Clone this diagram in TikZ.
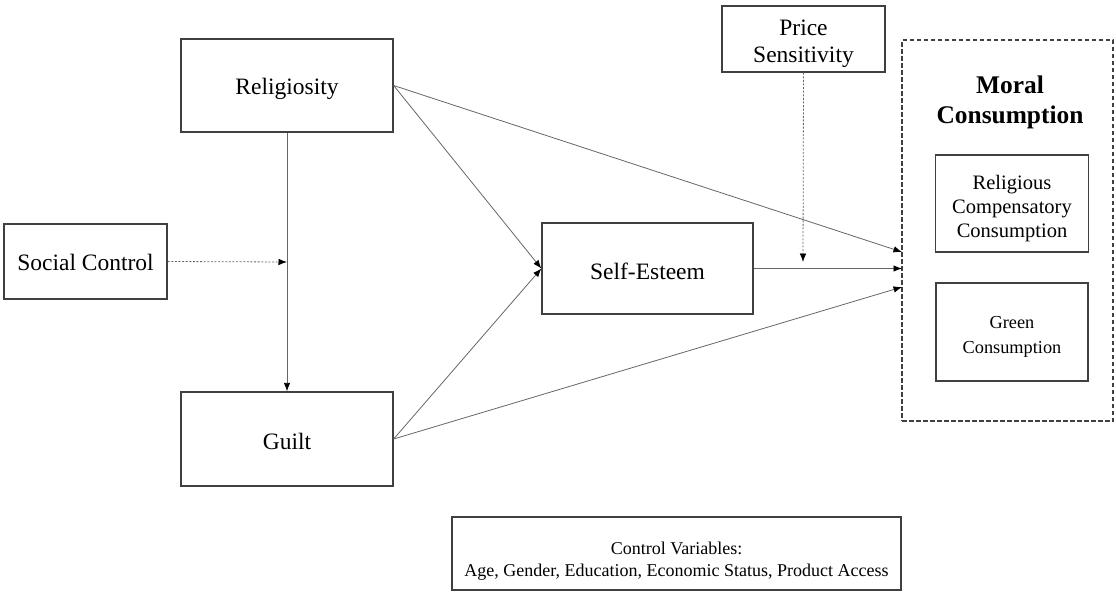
\documentclass[tikz,border=0pt]{standalone}
\usepackage{fontspec}
\setmainfont{Liberation Serif}
\usetikzlibrary{arrows.meta}
\begin{document}
\begin{tikzpicture}[x=1pt,y=-1pt,
  box/.style={draw=black!75,line width=1.3pt,minimum width=#1,inner sep=0pt},
  boxh/.style={minimum height=#1},
  lbl/.style={align=center,inner sep=0pt},
  mainfont/.style={font=\fontsize{23.5}{27}\selectfont},
  link/.style={draw=black!60,line width=0.8pt,-{Latex[length=8.5pt,width=6.5pt,black]}},
  mod/.style={draw=black!60,line width=0.8pt,dash pattern=on 2pt off 1.6pt,-{Latex[length=8.5pt,width=6.5pt,black]}}
]
\useasboundingbox (0,0) rectangle (1116,603);

% predictors
\node[box=212pt,boxh=93pt] (rel) at (287,85.5) {};
\node[lbl,mainfont] (reltext) at (287,89) {Religiosity};
\node[box=163pt,boxh=75pt] (soc) at (85.5,261.5) {};
\node[lbl,mainfont] (soctext) at (85.5,262.5) {Social Control};
\node[box=212pt,boxh=94pt] (guilt) at (287,439) {};
\node[lbl,mainfont] (guilttext) at (287,441) {Guilt};
\node[box=211pt,boxh=91pt] (self) at (647.5,268.5) {};
\node[lbl,mainfont] (selftext) at (647.5,271) {Self-Esteem};
\node[box=163pt,boxh=66pt] (price) at (803.5,39) {};
\node[lbl,mainfont] (pricetext) at (803.5,44) {Price\\Sensitivity};

% outcome block
\node[draw=black!75,line width=1.1pt,dash pattern=on 4.5pt off 2.5pt,minimum width=211pt,minimum height=381pt,inner sep=0pt] (moral) at (1007.5,230.5) {};
\node[lbl,font=\fontsize{25.4}{30}\selectfont\bfseries] (mtitle) at (1010,102.5) {Moral\\Consumption};
\node[box=153pt,boxh=97pt] (rcc) at (1012,203.5) {};
\node[lbl,font=\fontsize{20.5}{24}\selectfont] (rcctext) at (1012,209) {Religious\\Compensatory\\Consumption};
\node[box=152pt,boxh=98pt] (green) at (1012,332) {};
\node[lbl,font=\fontsize{18.3}{25}\selectfont] (greentext) at (1012,337) {Green\\Consumption};

% controls
\node[draw=black!75,line width=1.3pt,minimum width=449pt,minimum height=73pt,inner sep=0pt] (ctrl) at (676.5,553.5) {};
\node[lbl,font=\fontsize{18}{22}\selectfont] (ctrltext) at (676.5,561) {Control Variables:\\Age,\ Gender,\ Education,\ Economic\ Status,\ Product\ Access};

% arrow targets on the outcome block and the moderated paths
\coordinate (m1) at (902,252);
\coordinate (m2) at (902,268.5);
\coordinate (m3) at (902,287);
\coordinate (relguilt) at (287,262);
\coordinate (selfmoral) at (803,262);

% paths
\draw[link] (rel.south) -- (guilt.north);
\draw[link] (rel.east) -- (self.west);
\draw[link] (guilt.east) -- (self.west);
\draw[link] (rel.east) -- (m1);
\draw[link] (self.east) -- (m2);
\draw[link] (guilt.east) -- (m3);
\draw[mod] (soc.east) -- (relguilt);
\draw[mod] (price.south) -- (selfmoral);
\end{tikzpicture}
\end{document}
